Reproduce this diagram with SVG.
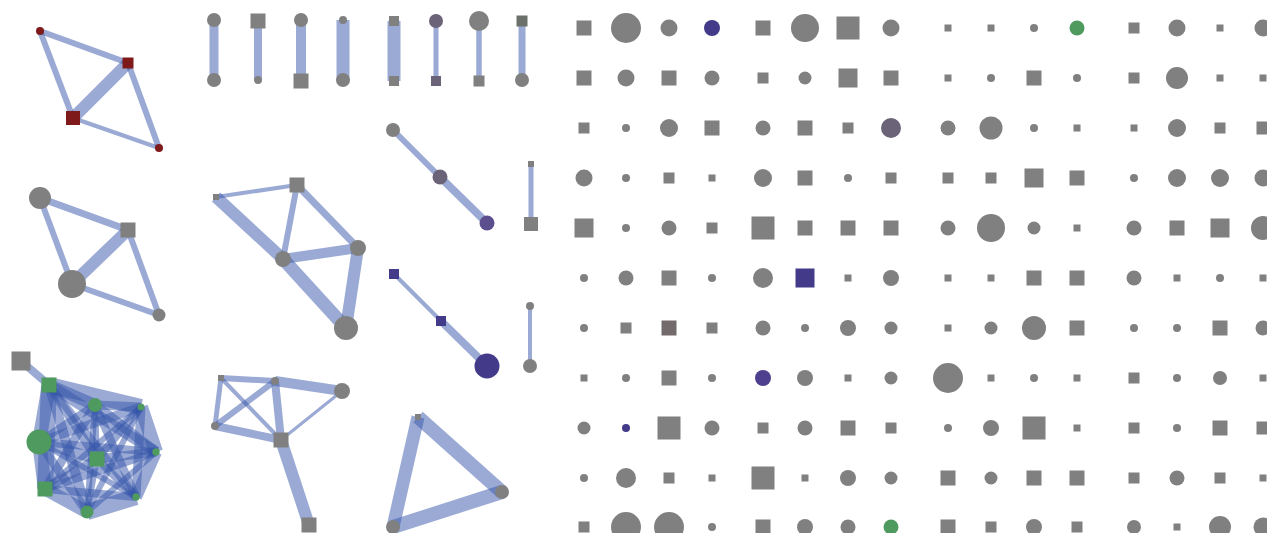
<svg xmlns="http://www.w3.org/2000/svg" width="1267" height="533" viewBox="0 0 1267 533">
<style>
.g{fill:#808080}.b{fill:#433a8a}.b2{fill:#4e3f8f}.p{fill:#6b6378}.p2{fill:#5b4f8d}.br{fill:#736b6b}.gr{fill:#4f9a5f}.r{fill:#7f1a1a}.dg{fill:#6b706b}
.e line{stroke:#3555aa;stroke-opacity:.5;stroke-linecap:butt;fill:none}
</style>
<rect width="1267" height="533" fill="#fff"/>
<g id="connectors" class="e">
<!-- A -->
<line x1="40" y1="31" x2="128" y2="63" stroke-width="6"/>
<line x1="40" y1="31" x2="73" y2="118" stroke-width="6"/>
<line x1="73" y1="118" x2="128" y2="63" stroke-width="12"/>
<line x1="128" y1="63" x2="159" y2="148" stroke-width="6"/>
<line x1="73" y1="118" x2="159" y2="148" stroke-width="4.5"/>
<!-- B -->
<line x1="40" y1="198" x2="128" y2="230" stroke-width="7"/>
<line x1="40" y1="198" x2="72" y2="284" stroke-width="6"/>
<line x1="72" y1="284" x2="128" y2="230" stroke-width="12"/>
<line x1="128" y1="230" x2="159" y2="315" stroke-width="6"/>
<line x1="72" y1="284" x2="159" y2="315" stroke-width="6"/>
<!-- C -->
<line x1="21" y1="361" x2="49" y2="385" stroke-width="8"/>
<line x1="49" y1="385" x2="95" y2="405" stroke-width="12"/>
<line x1="49" y1="385" x2="141" y2="407" stroke-width="16"/>
<line x1="49" y1="385" x2="39" y2="442" stroke-width="14"/>
<line x1="49" y1="385" x2="156" y2="452" stroke-width="11"/>
<line x1="49" y1="385" x2="97" y2="459" stroke-width="9"/>
<line x1="49" y1="385" x2="45" y2="489" stroke-width="16"/>
<line x1="49" y1="385" x2="136" y2="497" stroke-width="8"/>
<line x1="49" y1="385" x2="87" y2="512" stroke-width="10"/>
<line x1="95" y1="405" x2="141" y2="407" stroke-width="9"/>
<line x1="95" y1="405" x2="39" y2="442" stroke-width="8"/>
<line x1="95" y1="405" x2="156" y2="452" stroke-width="10"/>
<line x1="95" y1="405" x2="97" y2="459" stroke-width="6"/>
<line x1="95" y1="405" x2="45" y2="489" stroke-width="9"/>
<line x1="95" y1="405" x2="136" y2="497" stroke-width="8"/>
<line x1="95" y1="405" x2="87" y2="512" stroke-width="6"/>
<line x1="141" y1="407" x2="39" y2="442" stroke-width="9"/>
<line x1="141" y1="407" x2="156" y2="452" stroke-width="14"/>
<line x1="141" y1="407" x2="97" y2="459" stroke-width="8"/>
<line x1="141" y1="407" x2="45" y2="489" stroke-width="6"/>
<line x1="141" y1="407" x2="136" y2="497" stroke-width="9"/>
<line x1="141" y1="407" x2="87" y2="512" stroke-width="6"/>
<line x1="39" y1="442" x2="156" y2="452" stroke-width="8"/>
<line x1="39" y1="442" x2="97" y2="459" stroke-width="11"/>
<line x1="39" y1="442" x2="45" y2="489" stroke-width="14"/>
<line x1="39" y1="442" x2="136" y2="497" stroke-width="6"/>
<line x1="39" y1="442" x2="87" y2="512" stroke-width="9"/>
<line x1="156" y1="452" x2="97" y2="459" stroke-width="9"/>
<line x1="156" y1="452" x2="45" y2="489" stroke-width="8"/>
<line x1="156" y1="452" x2="136" y2="497" stroke-width="12"/>
<line x1="156" y1="452" x2="87" y2="512" stroke-width="6"/>
<line x1="97" y1="459" x2="45" y2="489" stroke-width="9"/>
<line x1="97" y1="459" x2="136" y2="497" stroke-width="8"/>
<line x1="97" y1="459" x2="87" y2="512" stroke-width="6"/>
<line x1="45" y1="489" x2="136" y2="497" stroke-width="8"/>
<line x1="45" y1="489" x2="87" y2="512" stroke-width="13"/>
<line x1="136" y1="497" x2="87" y2="512" stroke-width="16"/>
<!-- D pairs -->
<line x1="214" y1="20" x2="214" y2="80" stroke-width="9"/>
<line x1="258" y1="21" x2="258" y2="80" stroke-width="8"/>
<line x1="301" y1="20" x2="301" y2="81" stroke-width="10"/>
<line x1="343" y1="20" x2="343" y2="80" stroke-width="13"/>
<line x1="394" y1="21" x2="394" y2="81" stroke-width="13"/>
<line x1="436" y1="21" x2="436" y2="81" stroke-width="5"/>
<line x1="479" y1="21" x2="479" y2="81" stroke-width="5.5"/>
<line x1="522" y1="21" x2="522" y2="80" stroke-width="7"/>
<!-- E -->
<line x1="216" y1="197" x2="297" y2="185" stroke-width="4"/>
<line x1="216" y1="197" x2="283" y2="259" stroke-width="12"/>
<line x1="297" y1="185" x2="283" y2="259" stroke-width="6"/>
<line x1="297" y1="185" x2="358" y2="248" stroke-width="7"/>
<line x1="283" y1="259" x2="358" y2="248" stroke-width="10"/>
<line x1="283" y1="259" x2="346" y2="328" stroke-width="13"/>
<line x1="358" y1="248" x2="346" y2="328" stroke-width="12"/>
<!-- F -->
<line x1="393" y1="130" x2="440" y2="177" stroke-width="6"/>
<line x1="440" y1="177" x2="487" y2="223" stroke-width="8"/>
<!-- G -->
<line x1="531" y1="164" x2="531" y2="224" stroke-width="5"/>
<!-- H -->
<line x1="394" y1="274" x2="441" y2="321" stroke-width="4"/>
<line x1="441" y1="321" x2="487" y2="366" stroke-width="8"/>
<!-- I -->
<line x1="530" y1="306" x2="530" y2="366" stroke-width="4"/>
<!-- J -->
<line x1="221" y1="378" x2="275" y2="381" stroke-width="6"/>
<line x1="221" y1="378" x2="215" y2="426" stroke-width="5"/>
<line x1="221" y1="378" x2="281" y2="440" stroke-width="4"/>
<line x1="275" y1="381" x2="215" y2="426" stroke-width="6"/>
<line x1="275" y1="381" x2="281" y2="440" stroke-width="8"/>
<line x1="275" y1="381" x2="342" y2="391" stroke-width="10"/>
<line x1="281" y1="440" x2="342" y2="391" stroke-width="3"/>
<line x1="215" y1="426" x2="281" y2="440" stroke-width="8"/>
<line x1="281" y1="440" x2="309" y2="525" stroke-width="12"/>
<!-- K -->
<line x1="418" y1="417" x2="502" y2="492" stroke-width="14"/>
<line x1="418" y1="417" x2="393" y2="527" stroke-width="13"/>
<line x1="393" y1="527" x2="502" y2="492" stroke-width="14"/>
</g>
<!-- network A -->
<g id="a1"><circle class="r" cx="40" cy="31" r="4"/></g>
<g id="a2"><rect class="r" x="122.5" y="57.5" width="11" height="11"/></g>
<g id="a3"><rect class="r" x="66" y="111" width="14" height="14"/></g>
<g id="a4"><circle class="r" cx="159" cy="148" r="4"/></g>
<!-- network B -->
<g id="b1"><circle class="g" cx="40" cy="198" r="11"/></g>
<g id="b2"><rect class="g" x="120.5" y="222.5" width="15" height="15"/></g>
<g id="b3"><circle class="g" cx="72" cy="284" r="14"/></g>
<g id="b4"><circle class="g" cx="159" cy="315" r="6.5"/></g>
<!-- network C -->
<g id="c0"><rect class="g" x="11.5" y="351.5" width="19" height="19"/></g>
<g id="c1"><rect class="gr" x="41.5" y="377.5" width="15" height="15"/></g>
<g id="c2"><circle class="gr" cx="95" cy="405" r="7"/></g>
<g id="c3"><circle class="gr" cx="141" cy="407" r="3.5"/></g>
<g id="c4"><circle class="gr" cx="39" cy="442" r="12.5"/></g>
<g id="c5"><circle class="gr" cx="156" cy="452" r="3.7"/></g>
<g id="c6"><rect class="gr" x="89.5" y="451.5" width="15" height="15"/></g>
<g id="c7"><rect class="gr" x="37.5" y="481.5" width="15" height="15"/></g>
<g id="c8"><circle class="gr" cx="136" cy="497" r="3.7"/></g>
<g id="c9"><circle class="gr" cx="87" cy="512" r="6.5"/></g>
<!-- network D pairs -->
<g id="d1"><circle class="g" cx="214" cy="20" r="7"/></g>
<g id="d2"><circle class="g" cx="214" cy="80" r="7"/></g>
<g id="d3"><rect class="g" x="250.5" y="13.5" width="15" height="15"/></g>
<g id="d4"><circle class="g" cx="258" cy="80" r="4"/></g>
<g id="d5"><circle class="g" cx="301" cy="20" r="7"/></g>
<g id="d6"><rect class="g" x="293.5" y="73.5" width="15" height="15"/></g>
<g id="d7"><circle class="g" cx="343" cy="20" r="4"/></g>
<g id="d8"><circle class="g" cx="343" cy="80" r="7"/></g>
<g id="d9"><rect class="g" x="389" y="16" width="10" height="10"/></g>
<g id="d10"><rect class="g" x="389" y="76" width="10" height="10"/></g>
<g id="d11"><circle class="p" cx="436" cy="21" r="7"/></g>
<g id="d12"><rect class="p" x="431" y="76" width="10" height="10"/></g>
<g id="d13"><circle class="g" cx="479" cy="21" r="10"/></g>
<g id="d14"><rect class="g" x="473.5" y="75.5" width="11" height="11"/></g>
<g id="d15"><rect class="dg" x="516.5" y="15.5" width="11" height="11"/></g>
<g id="d16"><circle class="g" cx="522" cy="80" r="7"/></g>
<!-- network E -->
<g id="e1"><rect class="g" x="213" y="194" width="6" height="6"/></g>
<g id="e2"><rect class="g" x="289.5" y="177.5" width="15" height="15"/></g>
<g id="e3"><circle class="g" cx="283" cy="259" r="8"/></g>
<g id="e4"><circle class="g" cx="358" cy="248" r="8"/></g>
<g id="e5"><circle class="g" cx="346" cy="328" r="12"/></g>
<!-- network F -->
<g id="f1"><circle class="g" cx="393" cy="130" r="7"/></g>
<g id="f2"><circle class="p" cx="440" cy="177" r="7.5"/></g>
<g id="f3"><circle class="p2" cx="487" cy="223" r="7.5"/></g>
<!-- network G -->
<g id="g1"><rect class="g" x="528" y="161" width="6" height="6"/></g>
<g id="g2"><rect class="g" x="524" y="217" width="14" height="14"/></g>
<!-- network H -->
<g id="h1"><rect class="b" x="389" y="269" width="10" height="10"/></g>
<g id="h2"><rect class="b" x="436" y="316" width="10" height="10"/></g>
<g id="h3"><circle class="b" cx="487" cy="366" r="12.5"/></g>
<!-- network I -->
<g id="i1"><circle class="g" cx="530" cy="306" r="4"/></g>
<g id="i2"><circle class="g" cx="530" cy="366" r="7"/></g>
<!-- network J -->
<g id="j1"><rect class="g" x="218" y="375" width="6" height="6"/></g>
<g id="j2"><circle class="g" cx="275" cy="381" r="4"/></g>
<g id="j3"><circle class="g" cx="342" cy="391" r="8"/></g>
<g id="j4"><circle class="g" cx="215" cy="426" r="4"/></g>
<g id="j5"><rect class="g" x="273.5" y="432.5" width="15" height="15"/></g>
<g id="j6"><rect class="g" x="301.5" y="517.5" width="15" height="15"/></g>
<!-- network K -->
<g id="k1"><rect class="g" x="415" y="414" width="6" height="6"/></g>
<g id="k2"><circle class="g" cx="502" cy="492" r="7"/></g>
<g id="k3"><circle class="g" cx="393" cy="527" r="7"/></g>
<!-- grid row 1 -->
<g id="r1c1"><rect class="g" x="576.5" y="20.5" width="15" height="15"/></g>
<g id="r1c2"><circle class="g" cx="626" cy="28" r="15"/></g>
<g id="r1c3"><circle class="g" cx="669" cy="28" r="8.5"/></g>
<g id="r1c4"><circle class="b" cx="712" cy="28" r="8"/></g>
<g id="r1c5"><rect class="g" x="755.5" y="20.5" width="15" height="15"/></g>
<g id="r1c6"><circle class="g" cx="805" cy="28" r="14"/></g>
<g id="r1c7"><rect class="g" x="836.5" y="16.5" width="23" height="23"/></g>
<g id="r1c8"><circle class="g" cx="891" cy="28" r="8.5"/></g>
<g id="r1c9"><rect class="g" x="944.5" y="24.5" width="7" height="7"/></g>
<g id="r1c10"><rect class="g" x="987.5" y="24.5" width="7" height="7"/></g>
<g id="r1c11"><circle class="g" cx="1034" cy="28" r="4"/></g>
<g id="r1c12"><circle class="gr" cx="1077" cy="28" r="7.5"/></g>
<g id="r1c13"><rect class="g" x="1128.5" y="22.5" width="11" height="11"/></g>
<g id="r1c14"><circle class="g" cx="1177" cy="28" r="8.5"/></g>
<g id="r1c15"><rect class="g" x="1216.5" y="24.5" width="7" height="7"/></g>
<g id="r1c16"><circle class="g" cx="1263" cy="28" r="8.5"/></g>
<!-- row 2 -->
<g id="r2c1"><rect class="g" x="576.5" y="70.5" width="15" height="15"/></g>
<g id="r2c2"><circle class="g" cx="626" cy="78" r="8.5"/></g>
<g id="r2c3"><rect class="g" x="661.5" y="70.5" width="15" height="15"/></g>
<g id="r2c4"><circle class="g" cx="712" cy="78" r="7.5"/></g>
<g id="r2c5"><rect class="g" x="757.5" y="72.5" width="11" height="11"/></g>
<g id="r2c6"><circle class="g" cx="805" cy="78" r="6.5"/></g>
<g id="r2c7"><rect class="g" x="838.5" y="68.5" width="19" height="19"/></g>
<g id="r2c8"><rect class="g" x="883.5" y="70.5" width="15" height="15"/></g>
<g id="r2c9"><rect class="g" x="944.5" y="74.5" width="7" height="7"/></g>
<g id="r2c10"><circle class="g" cx="991" cy="78" r="4"/></g>
<g id="r2c11"><rect class="g" x="1026.5" y="70.5" width="15" height="15"/></g>
<g id="r2c12"><circle class="g" cx="1077" cy="78" r="4"/></g>
<g id="r2c13"><rect class="g" x="1128.5" y="72.5" width="11" height="11"/></g>
<g id="r2c14"><circle class="g" cx="1177" cy="78" r="11"/></g>
<g id="r2c15"><rect class="g" x="1216.5" y="74.5" width="7" height="7"/></g>
<g id="r2c16"><rect class="g" x="1259.5" y="74.5" width="7" height="7"/></g>
<!-- row 3 -->
<g id="r3c1"><rect class="g" x="578.5" y="122.5" width="11" height="11"/></g>
<g id="r3c2"><circle class="g" cx="626" cy="128" r="4"/></g>
<g id="r3c3"><circle class="g" cx="669" cy="128" r="9"/></g>
<g id="r3c4"><rect class="g" x="704.5" y="120.5" width="15" height="15"/></g>
<g id="r3c5"><circle class="g" cx="763" cy="128" r="7.5"/></g>
<g id="r3c6"><rect class="g" x="797.5" y="120.5" width="15" height="15"/></g>
<g id="r3c7"><rect class="g" x="842.5" y="122.5" width="11" height="11"/></g>
<g id="r3c8"><circle class="p" cx="891" cy="128" r="10"/></g>
<g id="r3c9"><circle class="g" cx="948" cy="128" r="7.5"/></g>
<g id="r3c10"><circle class="g" cx="991" cy="128" r="11.5"/></g>
<g id="r3c11"><circle class="g" cx="1034" cy="128" r="4"/></g>
<g id="r3c12"><rect class="g" x="1073.5" y="124.5" width="7" height="7"/></g>
<g id="r3c13"><rect class="g" x="1130.5" y="124.5" width="7" height="7"/></g>
<g id="r3c14"><circle class="g" cx="1177" cy="128" r="9"/></g>
<g id="r3c15"><rect class="g" x="1214.5" y="122.5" width="11" height="11"/></g>
<g id="r3c16"><rect class="g" x="1256.5" y="121.5" width="13" height="13"/></g>
<!-- row 4 -->
<g id="r4c1"><circle class="g" cx="584" cy="178" r="8.5"/></g>
<g id="r4c2"><circle class="g" cx="626" cy="178" r="4"/></g>
<g id="r4c3"><rect class="g" x="663.5" y="172.5" width="11" height="11"/></g>
<g id="r4c4"><rect class="g" x="708.5" y="174.5" width="7" height="7"/></g>
<g id="r4c5"><circle class="g" cx="763" cy="178" r="9"/></g>
<g id="r4c6"><rect class="g" x="797.5" y="170.5" width="15" height="15"/></g>
<g id="r4c7"><circle class="g" cx="848" cy="178" r="4"/></g>
<g id="r4c8"><rect class="g" x="885.5" y="172.5" width="11" height="11"/></g>
<g id="r4c9"><rect class="g" x="942.5" y="172.5" width="11" height="11"/></g>
<g id="r4c10"><rect class="g" x="985.5" y="172.5" width="11" height="11"/></g>
<g id="r4c11"><rect class="g" x="1024.5" y="168.5" width="19" height="19"/></g>
<g id="r4c12"><rect class="g" x="1069.5" y="170.5" width="15" height="15"/></g>
<g id="r4c13"><circle class="g" cx="1134" cy="178" r="4"/></g>
<g id="r4c14"><circle class="g" cx="1177" cy="178" r="9"/></g>
<g id="r4c15"><circle class="g" cx="1220" cy="178" r="9"/></g>
<g id="r4c16"><circle class="g" cx="1263" cy="178" r="8.5"/></g>
<!-- row 5 -->
<g id="r5c1"><rect class="g" x="574.5" y="218.5" width="19" height="19"/></g>
<g id="r5c2"><circle class="g" cx="626" cy="228" r="4"/></g>
<g id="r5c3"><circle class="g" cx="669" cy="228" r="7.5"/></g>
<g id="r5c4"><rect class="g" x="706.5" y="222.5" width="11" height="11"/></g>
<g id="r5c5"><rect class="g" x="751.5" y="216.5" width="23" height="23"/></g>
<g id="r5c6"><rect class="g" x="797.5" y="220.5" width="15" height="15"/></g>
<g id="r5c7"><rect class="g" x="840.5" y="220.5" width="15" height="15"/></g>
<g id="r5c8"><rect class="g" x="883.5" y="220.5" width="15" height="15"/></g>
<g id="r5c9"><circle class="g" cx="948" cy="228" r="7.5"/></g>
<g id="r5c10"><circle class="g" cx="991" cy="228" r="14"/></g>
<g id="r5c11"><circle class="g" cx="1034" cy="228" r="6.5"/></g>
<g id="r5c12"><rect class="g" x="1073.5" y="224.5" width="7" height="7"/></g>
<g id="r5c13"><circle class="g" cx="1134" cy="228" r="7.5"/></g>
<g id="r5c14"><rect class="g" x="1169.5" y="220.5" width="15" height="15"/></g>
<g id="r5c15"><rect class="g" x="1210.5" y="218.5" width="19" height="19"/></g>
<g id="r5c16"><circle class="g" cx="1263" cy="228" r="12"/></g>
<!-- row 6 -->
<g id="r6c1"><circle class="g" cx="584" cy="278" r="4"/></g>
<g id="r6c2"><circle class="g" cx="626" cy="278" r="7.5"/></g>
<g id="r6c3"><rect class="g" x="661.5" y="270.5" width="15" height="15"/></g>
<g id="r6c4"><circle class="g" cx="712" cy="278" r="4"/></g>
<g id="r6c5"><circle class="g" cx="763" cy="278" r="10"/></g>
<g id="r6c6"><rect class="b" x="795.5" y="268.5" width="19" height="19"/></g>
<g id="r6c7"><rect class="g" x="844.5" y="274.5" width="7" height="7"/></g>
<g id="r6c8"><circle class="g" cx="891" cy="278" r="8"/></g>
<g id="r6c9"><rect class="g" x="944.5" y="274.5" width="7" height="7"/></g>
<g id="r6c10"><rect class="g" x="987.5" y="274.5" width="7" height="7"/></g>
<g id="r6c11"><rect class="g" x="1026.5" y="270.5" width="15" height="15"/></g>
<g id="r6c12"><rect class="g" x="1069.5" y="270.5" width="15" height="15"/></g>
<g id="r6c13"><circle class="g" cx="1134" cy="278" r="7.5"/></g>
<g id="r6c14"><rect class="g" x="1173.5" y="274.5" width="7" height="7"/></g>
<g id="r6c15"><circle class="g" cx="1220" cy="278" r="4"/></g>
<g id="r6c16"><rect class="g" x="1259.5" y="274.5" width="7" height="7"/></g>
<!-- row 7 -->
<g id="r7c1"><circle class="g" cx="584" cy="328" r="4"/></g>
<g id="r7c2"><rect class="g" x="620.5" y="322.5" width="11" height="11"/></g>
<g id="r7c3"><rect class="br" x="661.5" y="320.5" width="15" height="15"/></g>
<g id="r7c4"><rect class="g" x="706.5" y="322.5" width="11" height="11"/></g>
<g id="r7c5"><circle class="g" cx="763" cy="328" r="7.5"/></g>
<g id="r7c6"><circle class="g" cx="805" cy="328" r="4"/></g>
<g id="r7c7"><circle class="g" cx="848" cy="328" r="8"/></g>
<g id="r7c8"><circle class="g" cx="891" cy="328" r="6.5"/></g>
<g id="r7c9"><rect class="g" x="944.5" y="324.5" width="7" height="7"/></g>
<g id="r7c10"><circle class="g" cx="991" cy="328" r="6.5"/></g>
<g id="r7c11"><circle class="g" cx="1034" cy="328" r="12"/></g>
<g id="r7c12"><rect class="g" x="1069.5" y="320.5" width="15" height="15"/></g>
<g id="r7c13"><circle class="g" cx="1134" cy="328" r="4"/></g>
<g id="r7c14"><circle class="g" cx="1177" cy="328" r="4"/></g>
<g id="r7c15"><rect class="g" x="1212.5" y="320.5" width="15" height="15"/></g>
<g id="r7c16"><circle class="g" cx="1263" cy="328" r="7.5"/></g>
<!-- row 8 -->
<g id="r8c1"><rect class="g" x="580.5" y="374.5" width="7" height="7"/></g>
<g id="r8c2"><circle class="g" cx="626" cy="378" r="4"/></g>
<g id="r8c3"><rect class="g" x="661.5" y="370.5" width="15" height="15"/></g>
<g id="r8c4"><circle class="g" cx="712" cy="378" r="4"/></g>
<g id="r8c5"><circle class="b2" cx="763" cy="378" r="8"/></g>
<g id="r8c6"><circle class="g" cx="805" cy="378" r="8"/></g>
<g id="r8c7"><rect class="g" x="844.5" y="374.5" width="7" height="7"/></g>
<g id="r8c8"><circle class="g" cx="891" cy="378" r="6.5"/></g>
<g id="r8c9"><circle class="g" cx="948" cy="378" r="15"/></g>
<g id="r8c10"><rect class="g" x="987.5" y="374.5" width="7" height="7"/></g>
<g id="r8c11"><circle class="g" cx="1034" cy="378" r="4"/></g>
<g id="r8c12"><rect class="g" x="1073.5" y="374.5" width="7" height="7"/></g>
<g id="r8c13"><rect class="g" x="1128.5" y="372.5" width="11" height="11"/></g>
<g id="r8c14"><circle class="g" cx="1177" cy="378" r="4"/></g>
<g id="r8c15"><circle class="g" cx="1220" cy="378" r="7"/></g>
<g id="r8c16"><rect class="g" x="1259.5" y="374.5" width="7" height="7"/></g>
<!-- row 9 -->
<g id="r9c1"><circle class="g" cx="584" cy="428" r="6.5"/></g>
<g id="r9c2"><circle class="b" cx="626" cy="428" r="4"/></g>
<g id="r9c3"><rect class="g" x="657.5" y="416.5" width="23" height="23"/></g>
<g id="r9c4"><circle class="g" cx="712" cy="428" r="7.5"/></g>
<g id="r9c5"><rect class="g" x="757.5" y="422.5" width="11" height="11"/></g>
<g id="r9c6"><circle class="g" cx="805" cy="428" r="7.5"/></g>
<g id="r9c7"><rect class="g" x="840.5" y="420.5" width="15" height="15"/></g>
<g id="r9c8"><rect class="g" x="885.5" y="422.5" width="11" height="11"/></g>
<g id="r9c9"><circle class="g" cx="948" cy="428" r="4"/></g>
<g id="r9c10"><circle class="g" cx="991" cy="428" r="8"/></g>
<g id="r9c11"><rect class="g" x="1022.5" y="416.5" width="23" height="23"/></g>
<g id="r9c12"><rect class="g" x="1073.5" y="424.5" width="7" height="7"/></g>
<g id="r9c13"><rect class="g" x="1128.5" y="422.5" width="11" height="11"/></g>
<g id="r9c14"><circle class="g" cx="1177" cy="428" r="4"/></g>
<g id="r9c15"><rect class="g" x="1212.5" y="420.5" width="15" height="15"/></g>
<g id="r9c16"><rect class="g" x="1256.5" y="421.5" width="13" height="13"/></g>
<!-- row 10 -->
<g id="r10c1"><circle class="g" cx="584" cy="478" r="4"/></g>
<g id="r10c2"><circle class="g" cx="626" cy="478" r="10"/></g>
<g id="r10c3"><rect class="g" x="663.5" y="472.5" width="11" height="11"/></g>
<g id="r10c4"><rect class="g" x="708.5" y="474.5" width="7" height="7"/></g>
<g id="r10c5"><rect class="g" x="751.5" y="466.5" width="23" height="23"/></g>
<g id="r10c6"><rect class="g" x="801.5" y="474.5" width="7" height="7"/></g>
<g id="r10c7"><circle class="g" cx="848" cy="478" r="8"/></g>
<g id="r10c8"><circle class="g" cx="891" cy="478" r="6.5"/></g>
<g id="r10c9"><rect class="g" x="940.5" y="470.5" width="15" height="15"/></g>
<g id="r10c10"><circle class="g" cx="991" cy="478" r="6.5"/></g>
<g id="r10c11"><rect class="g" x="1026.5" y="470.5" width="15" height="15"/></g>
<g id="r10c12"><rect class="g" x="1069.5" y="470.5" width="15" height="15"/></g>
<g id="r10c13"><rect class="g" x="1128.5" y="472.5" width="11" height="11"/></g>
<g id="r10c14"><circle class="g" cx="1177" cy="478" r="7.5"/></g>
<g id="r10c15"><rect class="g" x="1214.5" y="472.5" width="11" height="11"/></g>
<g id="r10c16"><rect class="g" x="1259.5" y="474.5" width="7" height="7"/></g>
<!-- row 11 -->
<g id="r11c1"><rect class="g" x="578.5" y="521.5" width="11" height="11"/></g>
<g id="r11c2"><circle class="g" cx="626" cy="527" r="15"/></g>
<g id="r11c3"><circle class="g" cx="669" cy="527" r="15"/></g>
<g id="r11c4"><circle class="g" cx="712" cy="527" r="4"/></g>
<g id="r11c5"><rect class="g" x="755.5" y="519.5" width="15" height="15"/></g>
<g id="r11c6"><circle class="g" cx="805" cy="527" r="8"/></g>
<g id="r11c7"><circle class="g" cx="848" cy="527" r="7.5"/></g>
<g id="r11c8"><circle class="gr" cx="891" cy="527" r="7.5"/></g>
<g id="r11c9"><rect class="g" x="940.5" y="519.5" width="15" height="15"/></g>
<g id="r11c10"><rect class="g" x="985.5" y="521.5" width="11" height="11"/></g>
<g id="r11c11"><circle class="g" cx="1034" cy="527" r="8"/></g>
<g id="r11c12"><rect class="g" x="1071.5" y="521.5" width="11" height="11"/></g>
<g id="r11c13"><circle class="g" cx="1134" cy="527" r="7"/></g>
<g id="r11c14"><rect class="g" x="1173.5" y="523.5" width="7" height="7"/></g>
<g id="r11c15"><circle class="g" cx="1220" cy="527" r="11"/></g>
<g id="r11c16"><circle class="g" cx="1263" cy="527" r="9.5"/></g>
</svg>
